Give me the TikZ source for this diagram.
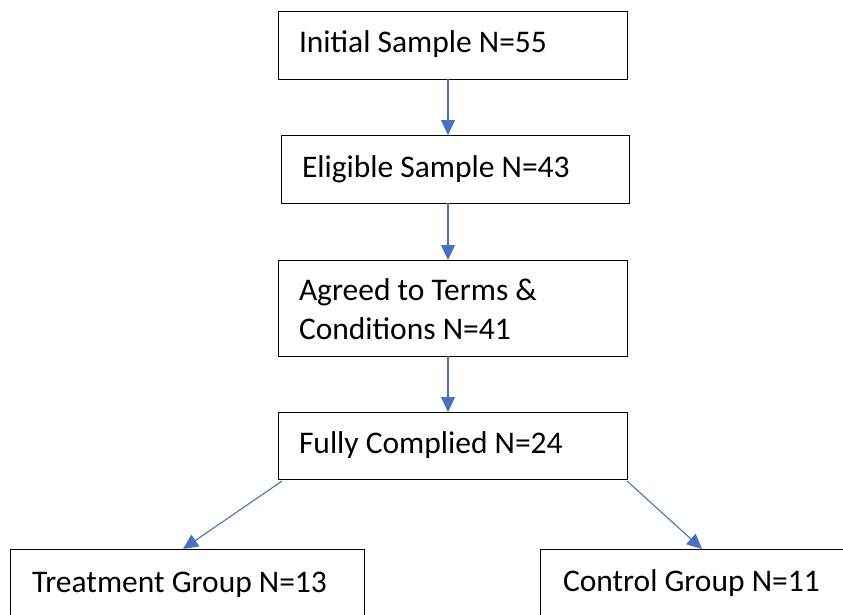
\documentclass[tikz,border=0pt]{standalone}
\usepackage{fontspec}
\setmainfont{Carlito}
\usetikzlibrary{arrows.meta,calc}
\definecolor{arrowblue}{HTML}{4472C4}
\begin{document}
\begin{tikzpicture}[x=1pt,y=-1pt,
  box/.style={draw=black,line width=1pt,inner sep=0pt,outer sep=0pt,anchor=north west},
  lbl/.style={anchor=base west,inner sep=0pt,outer sep=0pt,font=\fontsize{31.5}{39}\selectfont,align=left},
  arr/.style={draw=arrowblue,line width=1.1pt,-{Triangle[width=14pt,length=15pt]}}]
\useasboundingbox (0,0) rectangle (843,614);
\clip (0,0) rectangle (843,614);
\node[box,minimum width=349pt,minimum height=68pt] (b1) at (278,11) {};
\node[box,minimum width=348pt,minimum height=68pt] (b2) at (281,135) {};
\node[box,minimum width=349pt,minimum height=96pt] (b3) at (278,260) {};
\node[box,minimum width=349pt,minimum height=67pt] (b4) at (278,412) {};
\node[box,minimum width=354pt,minimum height=80pt] (b5) at (10,549) {};
\node[box,minimum width=320pt,minimum height=80pt] (b6) at (540,549) {};
\node[lbl] (t1) at ($(b1.north west)+(21,41)$) {Initial Sample N=55};
\node[lbl] (t2) at ($(b2.north west)+(21,42)$) {Eligible Sample N=43};
\node[lbl] (t3a) at ($(b3.north west)+(21,40)$) {Agreed to Terms \&};
\node[lbl] (t3b) at ($(b3.north west)+(21,79)$) {Conditions N=41};
\node[lbl] (t4) at ($(b4.north west)+(21,41)$) {Fully Complied N=24};
\node[lbl] (t5) at ($(b5.north west)+(22,43)$) {Treatment Group N=13};
\node[lbl] (t6) at ($(b6.north west)+(23,42)$) {Control Group N=11};
\coordinate (ax) at (448,0);
\draw[arr] (b1.south -| ax) -- (b2.north -| ax);
\draw[arr] (b2.south -| ax) -- (b3.north -| ax);
\draw[arr] (b3.south -| ax) -- (b4.north -| ax);
\draw[arr] ($(b4.south west)+(4,2)$) -- ($(b5.north west)+(173,0)$);
\draw[arr] ($(b4.south east)+(0,2)$) -- ($(b6.north west)+(162,0)$);
\end{tikzpicture}
\end{document}
